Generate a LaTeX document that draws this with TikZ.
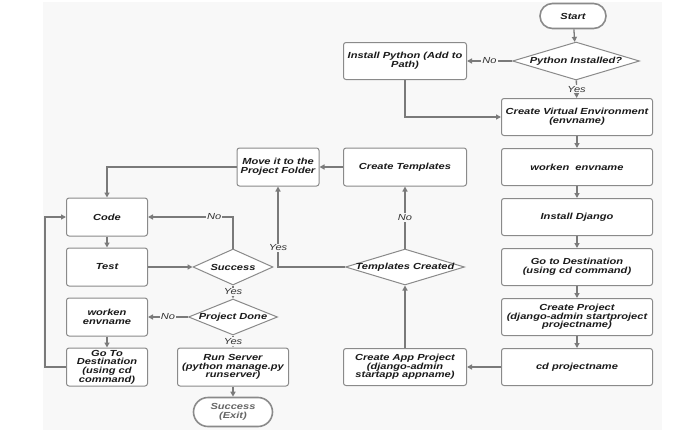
\documentclass[tikz,border=0pt]{standalone}
\usepackage{fontspec}
\setmainfont{Liberation Sans}[FakeStretch=1.26]
\usetikzlibrary{shapes.geometric,shapes.misc,arrows.meta}
\definecolor{linec}{HTML}{7A7A7A}
\definecolor{boxc}{HTML}{8A8A8A}
\definecolor{txtc}{HTML}{1A1A1A}
\definecolor{bgc}{HTML}{F8F8F8}
\tikzset{
  txt/.style={font=\fontsize{8.8}{8.6}\selectfont\bfseries\itshape, text=txtc},
  box/.style={txt, draw=boxc, line width=1pt, rounded corners=2.5pt, fill=white, align=center, inner sep=1pt, minimum height=37pt},
  term/.style={txt, rounded rectangle, draw=boxc, line width=1.6pt, fill=white, align=center, inner sep=1pt},
  dec/.style={diamond, draw=boxc, line width=1pt, fill=white, inner sep=0pt},
  conn/.style={draw=linec, line width=1.3pt, -{Triangle[length=5pt,width=5pt]}},
  lab/.style={font=\fontsize{8.8}{9}\selectfont\itshape, text=black!80, fill=bgc, inner sep=1pt}
}
\begin{document}
\begin{tikzpicture}[x=1pt,y=-1pt]
\useasboundingbox (0,0) rectangle (673,434);
\fill[bgc] (43,2) rectangle (662,430);
% right column
\node[term, minimum width=68pt, minimum height=25pt] (start) at (573,16) {Start};
\node[dec, minimum width=127pt, minimum height=38pt, label={[txt]center:Python Installed?}] (pyi) at (576,61) {};
\node[box, minimum width=123pt] (inst) at (405,61) {Install Python (Add to\\Path)};
\node[box, minimum width=151pt] (venv) at (577,117) {Create Virtual Environment\\(envname)};
\node[box, minimum width=151pt] (work) at (577,167) {worken\ \ envname};
\node[box, minimum width=151pt] (dj) at (577,217) {Install Django};
\node[box, minimum width=151pt] (goto) at (577,267) {Go to Destination\\(using cd command)};
\node[box, minimum width=151pt] (cproj) at (577,317) {Create Project\\(django-admin startproject\\projectname)};
\node[box, minimum width=151pt] (cd) at (577,367) {cd projectname};
% middle column
\node[box, minimum width=123pt] (capp) at (405,367) {Create App Project\\(django-admin\\startapp appname)};
\node[dec, minimum width=119pt, minimum height=36pt, label={[txt]center:Templates Created}] (tc) at (405,267) {};
\node[box, minimum width=123pt, minimum height=38pt] (ctmpl) at (405,167) {Create Templates};
\node[box, minimum width=82pt, minimum height=38pt] (move) at (278,167) {Move it to the\\Project Folder};
% left columns
\node[box, minimum width=81pt, minimum height=38pt] (code) at (107,217) {Code};
\node[box, minimum width=81pt, minimum height=38pt] (test) at (107,267) {Test};
\node[box, minimum width=81pt, minimum height=38pt] (work2) at (107,317) {worken\\envname};
\node[box, minimum width=81pt, minimum height=38pt] (goto2) at (107,367) {Go To\\Destination\\(using cd\\command)};
\node[dec, minimum width=80pt, minimum height=36pt, label={[txt]center:Success}] (succ) at (233,267) {};
\node[dec, minimum width=89pt, minimum height=36pt, label={[txt]center:Project Done}] (pd) at (233,317) {};
\node[box, minimum width=111pt, minimum height=38pt] (run) at (233,367) {Run Server\\(python manage.py\\runserver)};
\node[term, minimum width=81pt, minimum height=29pt, text=black!60] (exit) at (233,412) {Success\\(Exit)};
% connectors
\draw[conn] (start) -- (pyi);
\draw[conn] (pyi) -- node[lab]{No} (inst);
\draw[conn] (pyi) -- node[lab]{Yes} (venv);
\draw[conn] (inst.south) |- (venv.west);
\draw[conn] (venv) -- (work);
\draw[conn] (work) -- (dj);
\draw[conn] (dj) -- (goto);
\draw[conn] (goto) -- (cproj);
\draw[conn] (cproj) -- (cd);
\draw[conn] (cd) -- (capp);
\draw[conn] (capp) -- (tc);
\draw[conn] (tc) -- node[lab]{No} (ctmpl);
\draw[conn] (ctmpl) -- (move);
\draw[conn] (tc.west) -| node[lab, pos=0.62]{Yes} (move.south);
\draw[conn] (move.west) -| (code.north);
\draw[conn] (code) -- (test);
\draw[conn] (test) -- (succ);
\draw[conn] (succ.north) |- node[lab, pos=0.61]{No} (code.east);
\draw[conn] (succ) -- node[lab]{Yes} (pd);
\draw[conn] (pd) -- node[lab]{No} (work2);
\draw[conn] (pd) -- node[lab]{Yes} (run);
\draw[conn] (run) -- (exit);
\draw[conn] (work2) -- (goto2);
\draw[conn] (goto2.west) -- ++(-21,0) |- (code.west);
\end{tikzpicture}
\end{document}
